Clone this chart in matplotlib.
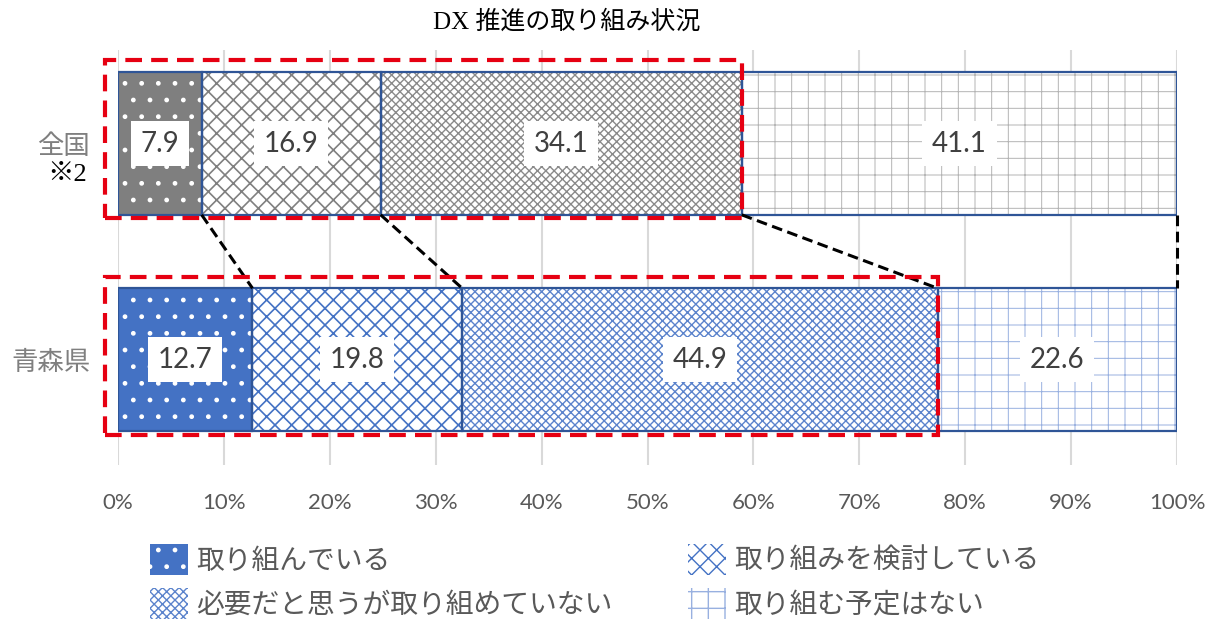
import matplotlib
matplotlib.use('Agg')
import matplotlib.pyplot as plt
import matplotlib.transforms as mtransforms
from matplotlib.patches import Rectangle
import numpy as np

# data
categories = ['全国', '青森県']
labels = ['取り組んでいる', '取り組みを検討している', '必要だと思うが取り組めていない', '取り組む予定はない']
zenkoku = [7.9, 16.9, 34.1, 41.1]
aomori = [12.7, 19.8, 44.9, 22.6]
xticks = list(range(0, 101, 10))

plt.rcParams['font.family'] = ['Noto Sans CJK JP', 'DejaVu Sans']

W, H = 1223, 632
fig = plt.figure(figsize=(W / 100, H / 100), dpi=100)
ax = fig.add_axes([118 / W, 1 - 465 / H, 1059 / W, 415 / H])

h = 0.66
ypos = [1, 0]
hatches = ['.', 'xx', 'xxxx', '+']
hatch_lw = [1.0, 1.2, 1.0, 0.7]
gray_face = ['#7f7f7f', 'white', 'white', 'white']
gray_hatch = ['white', '#808080', '#8a8a8a', '#b4b4b4']
blue_face = ['#4472c4', 'white', 'white', 'white']
blue_hatch = ['white', '#4472c4', '#5b83cc', '#98b0e0']

series = [(ypos[0], zenkoku, gray_face, gray_hatch), (ypos[1], aomori, blue_face, blue_hatch)]
for row, vals, faces, hcols in series:
    left = 0
    for i, v in enumerate(vals):
        with plt.rc_context({'hatch.linewidth': hatch_lw[i]}):
            ax.barh(row, v, left=left, height=h, color=faces[i], edgecolor=hcols[i],
                    hatch=hatches[i], linewidth=0, zorder=2,
                    label=labels[i] if row == ypos[1] else None)
        ax.barh(row, v, left=left, height=h, fill=False, edgecolor='#2f5597', linewidth=1.6, zorder=3)
        ax.text(left + v / 2, row, f'{v:.1f}', ha='center', va='center', fontsize=20,
                family='Lato', color='#404040', zorder=6,
                bbox=dict(boxstyle='square,pad=0.35', fc='white', ec='none'))
        left += v

# dashed connectors between matching boundaries
cz = np.cumsum(zenkoku)
ca = np.cumsum(aomori)
for a, b in zip(cz, ca):
    ax.plot([a, b], [ypos[0] - h / 2, ypos[1] + h / 2], color='black', lw=2.2,
            ls=(0, (3.5, 1.8)), zorder=4, clip_on=False)

# red dashed highlight boxes
red = '#e60012'
ax.add_patch(Rectangle((-1.2, ypos[0] - h / 2 - 0.015), cz[2] + 1.2, h + 0.072, fill=False,
                       edgecolor=red, lw=3, ls=(0, (4, 2.2)), zorder=5, clip_on=False))
ax.add_patch(Rectangle((-1.2, ypos[1] - h / 2 - 0.02), ca[2] + 1.2, h + 0.072, fill=False,
                       edgecolor=red, lw=3, ls=(0, (4, 2.2)), zorder=5, clip_on=False))

ax.set_xlim(0, 100)
ax.set_ylim(-0.488, 1.433)
ax.set_xticks(xticks)
ax.set_xticklabels([f'{t}%' for t in xticks], family='Lato', fontsize=16, color='#595959')
ax.set_yticks(ypos)
ax.set_yticklabels(categories, fontsize=19, color='#7f7f7f')
ax.tick_params(axis='x', length=0, pad=20)
ax.tick_params(axis='y', length=0, pad=20)
ax.grid(axis='x', color='#d9d9d9', lw=1.5)
ax.set_axisbelow(True)
for s in ax.spines.values():
    s.set_visible(False)

trans = mtransforms.blended_transform_factory(ax.transAxes, ax.transData)
ax.text(-0.048, ypos[0] - 31.5 / 216, '※2', transform=trans, ha='center', va='center',
        fontsize=19, family=['Liberation Serif', 'Noto Sans CJK JP'], color='black')

fig.text(567 / W, 1 - 22 / H, 'DX 推進の取り組み状況', ha='center', va='center', fontsize=18,
         family=['Liberation Serif', 'Noto Sans CJK JP'], color='black')

handles, labs = ax.get_legend_handles_labels()
order = [0, 2, 1, 3]
fig.legend([handles[i] for i in order], [labs[i] for i in order], loc='center left',
           bbox_to_anchor=(150 / W, 1 - 582 / H), ncol=2, frameon=False, fontsize=20,
           handlelength=1.35, handleheight=1.35, handletextpad=0.3, labelspacing=0.45,
           columnspacing=2.75, borderpad=0, borderaxespad=0, labelcolor='#595959')

fig.savefig('out.png', dpi=100)
